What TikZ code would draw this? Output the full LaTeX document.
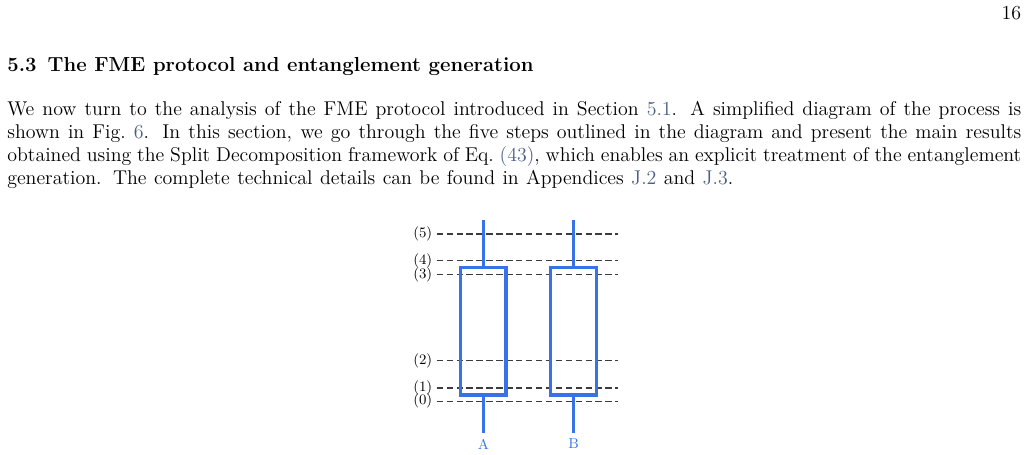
\documentclass[tikz,border=0pt]{standalone}
\usepackage{fontspec}
\usepackage{xcolor}
\definecolor{linkc}{RGB}{75,95,135}
\definecolor{boxblue}{RGB}{55,115,230}
\definecolor{dashgray}{RGB}{60,60,60}
\newcommand{\lk}[1]{\textcolor{linkc}{#1}}
\begin{document}
\begin{tikzpicture}[x=0.625pt,y=-0.625pt,
  txt/.style={anchor=base west, inner sep=0pt},
  bodyline/.style={txt, font=\fontsize{12.45}{14.5}\selectfont},
  steplabel/.style={anchor=east, inner sep=0pt, font=\small},
  dashline/.style={draw=dashgray, line width=0.7pt, dash pattern=on 4pt off 2.2pt},
  chanbox/.style={draw=boxblue, line width=1.9pt, inner sep=0pt, minimum height=79.8pt},
  stem/.style={draw=boxblue, line width=1.6pt},
  partylabel/.style={inner sep=0pt, text=boxblue, font=\small}]
\useasboundingbox (0,0) rectangle (1028,455);
\fill[white] (0,0) rectangle (1028,455);
% page number and heading
\node[anchor=base east, inner sep=0pt, font=\fontsize{12.45}{14.5}\selectfont] (pg) at (1021.5,20) {16};
\node[txt, font=\fontsize{12.7}{15}\selectfont\bfseries] (hd) at (7,71.7) {5.3\hspace{0.55em}The FME protocol and entanglement generation};
% paragraph
\node[bodyline] (p1) at (7,116) {\makebox[633.75pt][s]{We now turn to the analysis of the FME protocol introduced in Section \lk{5.1}. A simplified diagram of the process is}};
\node[bodyline] (p2) at (7,139) {\makebox[633.75pt][s]{shown in Fig.~\lk{6}. In this section, we go through the five steps outlined in the diagram and present the main results}};
\node[bodyline] (p3) at (7,161.7) {\makebox[633.75pt][s]{obtained using the Split Decomposition framework of Eq.~\lk{(43)}, which enables an explicit treatment of the entanglement}};
\node[bodyline] (p4) at (7,184.4) {\makebox[453.75pt][s]{generation. The complete technical details can be found in Appendices \lk{J.2} and \lk{J.3}.}};
% step levels
\foreach \n/\yy in {5/234,4/260.7,3/274.7,2/360.7,1/388,0/401.3}{
  \node[steplabel] (l\n) at (432.5,\yy) {(\n)};
  \coordinate (ds\n) at (436.7,\yy);
  \coordinate (de\n) at (618,\yy);
  \path[dashline] (ds\n) -- (de\n);
}
% channels
\node[chanbox, minimum width=28.3pt] (boxA) at (483.35,331.15) {};
\node[chanbox, minimum width=28.75pt] (boxB) at (573.7,331.15) {};
\coordinate (topA) at (483.35,220);
\coordinate (topB) at (573.7,220);
\coordinate (botA) at (483.35,433.3);
\coordinate (botB) at (573.7,433.3);
\path[stem] (topA) -- (boxA.north);
\path[stem] (boxA.south) -- (botA);
\path[stem] (topB) -- (boxB.north);
\path[stem] (boxB.south) -- (botB);
\node[partylabel] (A) at (483.35,444) {A};
\node[partylabel] (B) at (573.7,444) {B};
\end{tikzpicture}
\end{document}
